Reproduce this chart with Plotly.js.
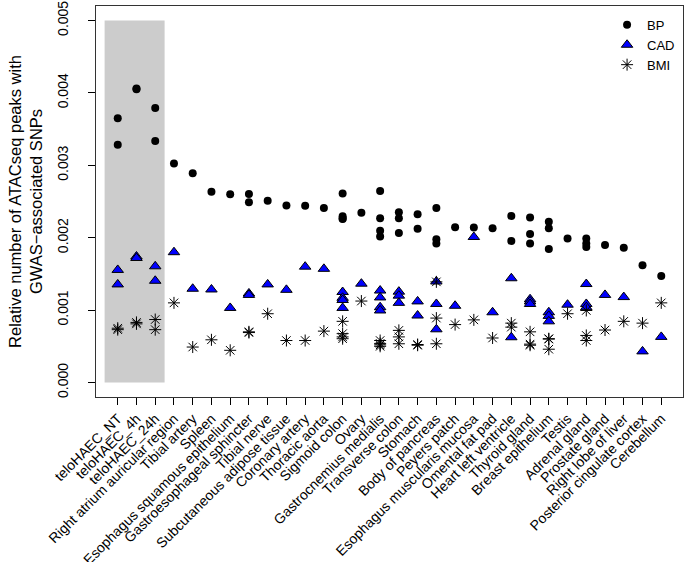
<!DOCTYPE html>
<html>
<head>
<meta charset="utf-8">
<script src="https://cdn.plot.ly/plotly-3.0.1.min.js"></script>
<style>html,body{margin:0;padding:0;background:#fff;}#chart{width:685px;height:562px;}</style>
</head>
<body>
<div id="chart"></div>
<script>
var categories = ["teloHAEC_NT","teloHAEC_4h","teloHAEC_24h","Right atrium auricular region","Tibial artery","Spleen","Esophagus squamous epithelium","Gastroesophageal sphincter","Tibial nerve","Subcutaneous adipose tissue","Coronary artery","Thoracic aorta","Sigmoid colon","Ovary","Gastrocnemius medialis","Transverse colon","Stomach","Body of pancreas","Peyers patch","Esophagus muscularis mucosa","Omental fat pad","Heart left ventricle","Thyroid gland","Breast epithelium","Testis","Adrenal gland","Prostate gland","Right lobe of liver","Posterior cingulate cortex","Cerebellum"];

var bpValues = [[0.00365,0.003285],[0.00406,0.00405],[0.00379,0.003335],[0.003025],[0.00289],[0.002635],[0.0026],[0.002605,0.00249],[0.00251],[0.002445],[0.00244],[0.00241],[0.00261,0.002295,0.002265,0.00226],[0.002345],[0.002645,0.00227,0.002095,0.002015],[0.00235,0.00227,0.002065],[0.002325,0.002125],[0.00241,0.00198,0.00192],[0.002145],[0.00214],[0.00213],[0.0023,0.001955],[0.00228,0.00205,0.00192],[0.00222,0.00213,0.001845],[0.00199],[0.00199,0.00192,0.00187],[0.0019],[0.00186],[0.00162],[0.00147]];

var cadValues = [[0.001555,0.001355],[0.00174,0.00172],[0.001605,0.001405],[0.0018],[0.001295],[0.001285],[0.00103],[0.00123,0.00121],[0.001355],[0.00128],[0.0016],[0.00157],[0.00125,0.00117,0.00114,0.00103],[0.001365],[0.00127,0.001175,0.00104,0.000995],[0.001255,0.0012,0.0011],[0.00112,0.000925],[0.001395,0.001085,0.000735],[0.00106],[0.00201],[0.00097],[0.00144,0.000625],[0.00115,0.00112,0.001085],[0.00097,0.00092,0.000845],[0.001075],[0.00136,0.001085,0.00104],[0.00121],[0.00118],[0.00043],[0.00063]];

var bmiValues = [[0.00075,0.00073],[0.00083,0.00081],[0.00087,0.00073],[0.0011],[0.00049],[0.00059],[0.000445],[0.0007,0.00069],[0.00095],[0.00058],[0.00058],[0.00071],[0.000845,0.000675,0.00063,0.000605],[0.001125],[0.00058,0.00054,0.00052,0.0005],[0.00072,0.00063,0.000535],[0.000525,0.000515],[0.00139,0.00089,0.000535],[0.0008],[0.000865],[0.000615],[0.00082,0.000765],[0.0007,0.00053,0.000515],[0.000605,0.0006,0.00046],[0.00095],[0.000995,0.00065,0.00058],[0.000725],[0.000845],[0.00082],[0.0011]];

var yTickValues = [0, 0.001, 0.002, 0.003, 0.004, 0.005];
var yTickLabels = ["0.000","0.001","0.002","0.003","0.004","0.005"];
var shadedRange = [0.3, 3.5];

function flatten(vals) {
  var xs = [], ys = [];
  vals.forEach(function (arr, i) {
    arr.forEach(function (v) { xs.push(i + 1); ys.push(v); });
  });
  return {x: xs, y: ys};
}

var bp = flatten(bpValues), cad = flatten(cadValues), bmi = flatten(bmiValues);
var font = "Liberation Sans, Arial, Helvetica, sans-serif";

var traces = [
  {x: bp.x, y: bp.y, name: "BP", type: "scatter", mode: "markers",
   marker: {symbol: "circle", size: 8, color: "#000"}},
  {x: cad.x, y: cad.y, name: "CAD", type: "scatter", mode: "markers",
   marker: {symbol: "triangle-up", size: 10, color: "#0000FF", line: {color: "#000", width: 1}}},
  {x: bmi.x, y: bmi.y, name: "BMI", type: "scatter", mode: "markers",
   marker: {symbol: "asterisk-open", size: 10, color: "#000", line: {color: "#000", width: 1}}}
];

var n = categories.length;
var pad = (n - 1) * 0.04;
var tickvals = categories.map(function (c, i) { return i + 1; });

var layout = {
  width: 685, height: 562,
  margin: {l: 96, r: 2, t: 6, b: 165},
  paper_bgcolor: "#fff", plot_bgcolor: "#fff",
  font: {family: font, color: "#000", size: 12},
  showlegend: true,
  legend: {x: 0.995, xanchor: "right", y: 0.99, yanchor: "top", bgcolor: "rgba(0,0,0,0)",
           font: {size: 13, family: font}, itemwidth: 30, tracegroupgap: 0, valign: "middle"},
  xaxis: {
    range: [1 - pad, n + pad], tickmode: "array", tickvals: tickvals, ticktext: categories,
    tickangle: -45, ticks: "outside", ticklen: 7, tickcolor: "#000",
    showline: true, mirror: true, linecolor: "#333", linewidth: 1,
    showgrid: false, zeroline: false, tickfont: {size: 14, family: font}
  },
  yaxis: {
    range: [-0.0002, 0.0052], tickmode: "array", tickvals: yTickValues, ticktext: yTickLabels,
    tickangle: -90, ticks: "outside", ticklen: 7, tickcolor: "#000",
    showline: true, mirror: true, linecolor: "#333", linewidth: 1,
    showgrid: false, zeroline: false, tickfont: {size: 14, family: font},
    ticklabelstandoff: 14,
    title: {text: "Relative number of ATACseq peaks with<br>GWAS\u2212associated SNPs",
            font: {size: 16.5, family: font}, standoff: 8}
  },
  shapes: [{type: "rect", xref: "x", yref: "y", x0: shadedRange[0], x1: shadedRange[1],
            y0: yTickValues[0], y1: yTickValues[yTickValues.length - 1],
            fillcolor: "#cccccc", line: {width: 0}, layer: "below"}]
};

Plotly.newPlot("chart", traces, layout, {displayModeBar: false, staticPlot: true});
</script>
</body>
</html>
